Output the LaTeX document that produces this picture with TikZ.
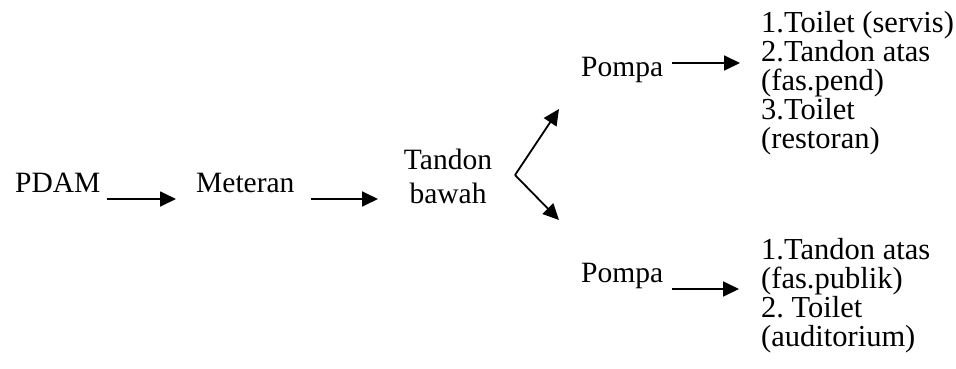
\documentclass[tikz,border=0pt]{standalone}
\usepackage{fontspec}
\setmainfont{Liberation Serif}
\usetikzlibrary{arrows.meta}
\frenchspacing
\begin{document}
\begin{tikzpicture}[x=1pt,y=-1pt,
  label/.style={inner sep=0pt, font=\fontsize{29.5}{29}\selectfont},
  listing/.style={label, anchor=base west, align=left,
                  font=\fontsize{30.5}{29}\selectfont},
  flow/.style={line width=1.8pt, -{Triangle[length=16pt,width=15pt]}}]
\useasboundingbox (0,0) rectangle (956,369);

% labels along the supply line (base anchor = baseline of the last line)
\node[label, anchor=base west] (pdam) at (15,192) {PDAM};
\node[label, anchor=base west] (meter) at (196,192) {Meteran};
\node[label, anchor=base, align=center,
      font=\fontsize{29.5}{34}\selectfont] (tandon) at (448,203) {Tandon\\bawah};
\node[label, anchor=base west] (pompa1) at (581,77) {Pompa};
\node[label, anchor=base west] (pompa2) at (581,282) {Pompa};

% consumers served by each pump
\node[listing] (list1) at (761,148)
  {1.Toilet (servis)\\2.Tandon atas\\(fas.pend)\\3.Toilet\\(restoran)};
\node[listing] (list2) at (761,346)
  {1.Tandon atas\\(fas.publik)\\2. Toilet\\(auditorium)};

% arrow end points
\coordinate (a1s) at (107,199); \coordinate (a1e) at (176,199);
\coordinate (a2s) at (311,199); \coordinate (a2e) at (378,199);
\coordinate (fork) at (515,175);
\coordinate (up) at (559,109); \coordinate (down) at (559,220);
\coordinate (a3s) at (672,63); \coordinate (a3e) at (740,63);
\coordinate (a4s) at (672,289); \coordinate (a4e) at (739,289);

\draw[flow] (a1s) -- (a1e);
\draw[flow] (a2s) -- (a2e);
\draw[flow] (fork) -- (up);
\draw[flow] (fork) -- (down);
\draw[flow] (a3s) -- (a3e);
\draw[flow] (a4s) -- (a4e);
\end{tikzpicture}
\end{document}
